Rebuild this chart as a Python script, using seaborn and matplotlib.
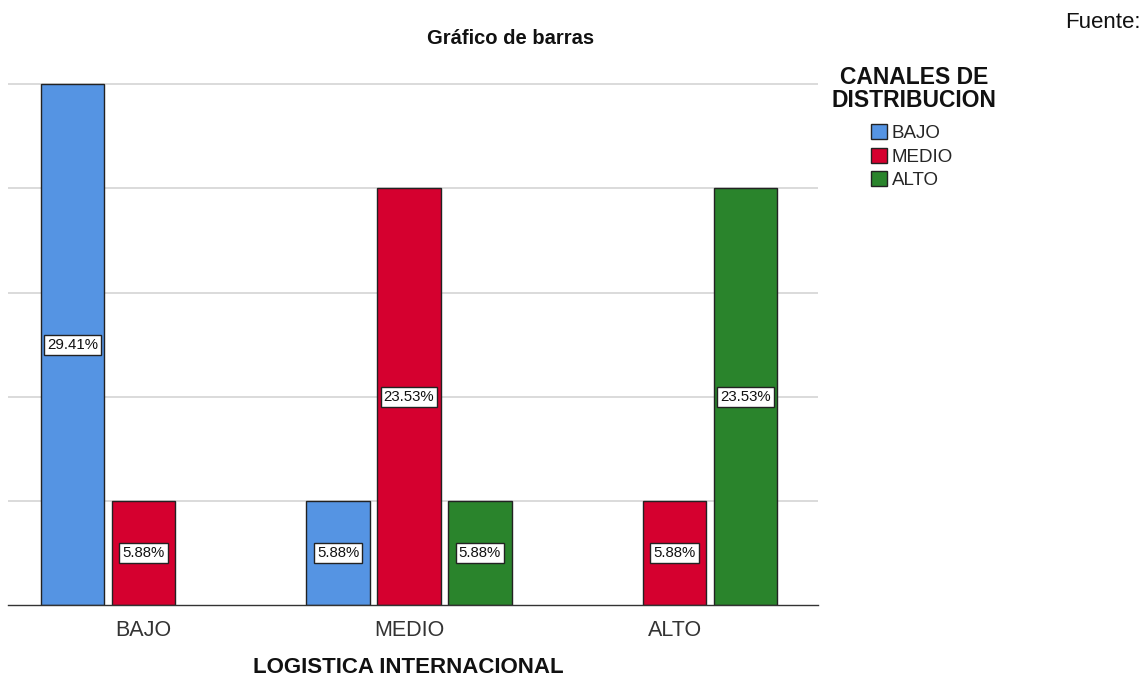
import numpy as np
import pandas as pd
import matplotlib
matplotlib.use("Agg")
import matplotlib.pyplot as plt
import seaborn as sns

# data (percent of total, n = 17)
logistica = ["BAJO", "MEDIO", "ALTO"]
canales = ["BAJO", "MEDIO", "ALTO"]
pct_bajo = [29.41, 5.88, 0.0]
pct_medio = [5.88, 23.53, 5.88]
pct_alto = [0.0, 5.88, 23.53]

colors = ["#5594E3", "#D5002F", "#2A842C"]

df = pd.DataFrame({
    "logistica": logistica * 3,
    "canal": [c for c in canales for _ in logistica],
    "pct": pct_bajo + pct_medio + pct_alto,
})

sns.set_theme(style="white")
plt.rcParams["font.family"] = ["Liberation Sans", "DejaVu Sans"]

W, H = 1143, 679
fig = plt.figure(figsize=(W / 100, H / 100), dpi=100)
ax = fig.add_axes([8 / W, 1 - 605 / H, 810 / W, (605 - 79) / H])

sns.barplot(data=df, x="logistica", y="pct", hue="canal", order=logistica,
            hue_order=canales, palette=colors, width=0.8, gap=0.1,
            edgecolor="#222222", linewidth=1, saturation=1, ax=ax)

# empty categories: no bar at all
for cont in ax.containers:
    for b in cont:
        if b.get_height() == 0:
            b.set_visible(False)

step = 100 / 17
ax.set_ylim(0, step * 5.05)
ax.set_xlim(-0.51, 2.54)
ax.set_yticks(step * np.arange(1, 6))
ax.yaxis.grid(True, color="#d4d4d4", linewidth=1.2)
ax.set_axisbelow(True)
ax.tick_params(axis="y", left=False, labelleft=False)
ax.tick_params(axis="x", bottom=False, labelsize=15.5, labelcolor="#333333", pad=5)
for s in ["left", "right", "top"]:
    ax.spines[s].set_visible(False)
ax.spines["bottom"].set_color("#333333")
ax.spines["bottom"].set_linewidth(1)
ax.set_ylabel("")
ax.set_xlabel("LOGISTICA INTERNACIONAL", fontsize=16, fontweight="bold", color="#111111")
ax.xaxis.set_label_coords(400 / 810, -52 / 526)

for cont in ax.containers:
    labels = [f"{b.get_height():.2f}%" if b.get_height() > 0 else "" for b in cont]
    ax.bar_label(cont, labels=labels, label_type="center", fontsize=10.8,
                 color="#111111",
                 bbox=dict(boxstyle="square,pad=0.2", fc="white", ec="#222222", lw=1))

handles, labs = ax.get_legend_handles_labels()
ax.get_legend().remove()
fig.legend(handles, labs, loc="upper left", bbox_to_anchor=(871 / W, 1 - 124 / H),
           frameon=False, fontsize=13.5, handlelength=0.85, handleheight=0.85,
           handletextpad=0.25, labelspacing=0.3, borderaxespad=0, borderpad=0)

fig.text(914 / W, 1 - 89 / H, "CANALES DE\nDISTRIBUCION", ha="center", va="center",
         fontsize=16.5, fontweight="bold", linespacing=0.95, color="#111111")
fig.text(427 / W, 1 - 39 / H, "Gráfico de barras", ha="left", va="center",
         fontsize=14.5, fontweight="bold", color="#111111")
fig.text(1141 / W, 1 - 23 / H, "Fuente:", ha="right", va="center",
         fontsize=16, color="#111111")

fig.savefig("out.png", dpi=100)
